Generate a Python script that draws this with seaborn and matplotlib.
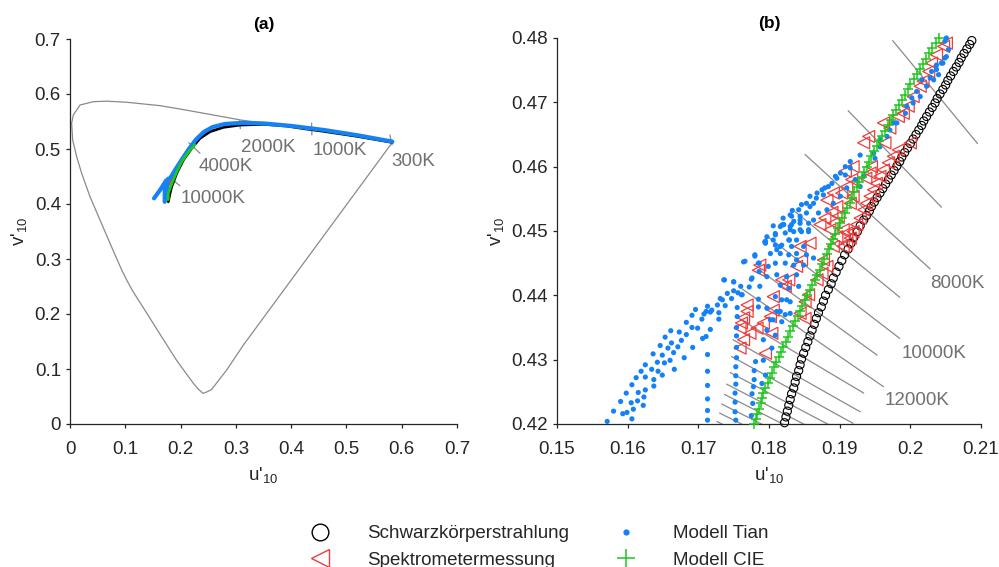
import matplotlib
matplotlib.use("Agg")
import matplotlib.pyplot as plt
import pandas as pd
import seaborn as sns
from matplotlib.lines import Line2D
from matplotlib.ticker import FuncFormatter

# ---------------------------------------------------------------- data
# spectral locus + purple line (CIE 1964, u'10 v'10)
locus_u = [0.583, 0.50, 0.44, 0.38, 0.31, 0.25, 0.20, 0.163, 0.1025, 0.0663, 0.0422,
           0.0181, 0.006, 0.003, 0.0048, 0.0121, 0.0211, 0.0362, 0.0543, 0.0724, 0.0935,
           0.1025, 0.1116, 0.1220, 0.1326, 0.1628, 0.193, 0.2231, 0.232, 0.2406, 0.2480,
           0.2563, 0.2834, 0.3135, 0.3437, 0.44, 0.537, 0.583]
locus_v = [0.512, 0.5255, 0.5355, 0.5436, 0.5525, 0.5635, 0.5725, 0.5788, 0.585, 0.587, 0.586,
           0.580, 0.5618, 0.5467, 0.5164, 0.486, 0.4558, 0.4133, 0.3709, 0.3285, 0.2800,
           0.2620, 0.2450, 0.2280, 0.2115, 0.1632, 0.1155, 0.074, 0.0635, 0.0557, 0.0585,
           0.063, 0.0982, 0.1434, 0.1847, 0.3164, 0.449, 0.512]

# Planckian locus, overview
planck_u = [0.583, 0.52, 0.46, 0.42, 0.392, 0.35, 0.3075, 0.2773, 0.2532, 0.2351, 0.2201,
            0.205, 0.193, 0.1839, 0.1805, 0.1778]
planck_v = [0.512, 0.523, 0.532, 0.5375, 0.5418, 0.5449, 0.5436, 0.5394, 0.5315, 0.5194, 0.5013,
            0.48, 0.4558, 0.4315, 0.418, 0.4042]

# model Tian, overview (three branches)
tian_line_u = [0.583, 0.52, 0.46, 0.40, 0.35, 0.31, 0.28, 0.258, 0.242, 0.228, 0.215, 0.203,
               0.1905, 0.181, 0.1736, 0.163, 0.152,
               0.1745, 0.1713, 0.1713,
               0.1775, 0.1754, 0.1754]
tian_line_v = [0.5135, 0.525, 0.5345, 0.542, 0.5465, 0.5475, 0.5455, 0.540, 0.531, 0.5175, 0.500,
               0.482, 0.4625, 0.4467, 0.4424, 0.4255, 0.4103,
               0.442, 0.431, 0.404,
               0.446, 0.438, 0.410]
tian_line_seg = [0] * 17 + [1] * 3 + [2] * 3

# spectrometer + CIE model, overview
spec_line_u = [0.176, 0.183, 0.192, 0.196]
spec_line_v = [0.432, 0.445, 0.462, 0.466]
cie_line_u = [0.1775, 0.1779, 0.1844, 0.1924, 0.2004, 0.2040, 0.2155, 0.226]
cie_line_v = [0.408, 0.420, 0.4377, 0.4569, 0.4735, 0.480, 0.496, 0.508]

# temperature marks, overview
mark_u0 = [0.5785, 0.4370, 0.3070, 0.2150, 0.1796]
mark_v0 = [0.5255, 0.5470, 0.5520, 0.5115, 0.4493]
mark_u1 = [0.5825, 0.4375, 0.3080, 0.2351, 0.1985]
mark_v1 = [0.5073, 0.5255, 0.5370, 0.4922, 0.4333]
mark_text = ["300K", "1000K", "2000K", "4000K", "10000K"]
mark_text_u = [0.582, 0.439, 0.3087, 0.2333, 0.2008]
mark_text_v = [0.4769, 0.4976, 0.5036, 0.4673, 0.4097]

# ---- detail window
bb_u = [0.1822, 0.1824, 0.1826, 0.1828, 0.1830, 0.1832, 0.1835, 0.1837, 0.1839, 0.1842,
        0.1844, 0.1846, 0.1849, 0.1852, 0.1855, 0.1858, 0.1861, 0.1864, 0.1867, 0.1870,
        0.1874, 0.1877, 0.1880, 0.1884, 0.1888, 0.1891, 0.1895, 0.1899, 0.1903, 0.1907,
        0.1912, 0.1916, 0.1920, 0.1925, 0.1929, 0.1934,
        0.1938, 0.1942, 0.1945, 0.1949, 0.1953, 0.1957, 0.1961, 0.1965, 0.1969, 0.1973,
        0.1977, 0.1981, 0.1985, 0.1988, 0.1992, 0.1996, 0.2000, 0.2004, 0.2008, 0.2012,
        0.2016, 0.2019, 0.2023, 0.2027, 0.2031, 0.2035, 0.2038, 0.2042, 0.2046, 0.2050,
        0.2053, 0.2057, 0.2061, 0.2065, 0.2069, 0.2072, 0.2076, 0.2080, 0.2084, 0.2087]
bb_v = [0.4202, 0.4211, 0.4220, 0.4229, 0.4238, 0.4247, 0.4256, 0.4265, 0.4274, 0.4283,
        0.4292, 0.4301, 0.4310, 0.4319, 0.4328, 0.4337, 0.4346, 0.4355, 0.4364, 0.4373,
        0.4382, 0.4391, 0.4400, 0.4409, 0.4418, 0.4427, 0.4436, 0.4445, 0.4454, 0.4463,
        0.4472, 0.4481, 0.4490, 0.4499, 0.4508, 0.4517,
        0.4524, 0.4531, 0.4538, 0.4545, 0.4552, 0.4559, 0.4566, 0.4573, 0.4580, 0.4587,
        0.4594, 0.4601, 0.4608, 0.4615, 0.4622, 0.4629, 0.4636, 0.4643, 0.4650, 0.4657,
        0.4664, 0.4671, 0.4678, 0.4685, 0.4692, 0.4699, 0.4706, 0.4713, 0.4720, 0.4727,
        0.4734, 0.4741, 0.4748, 0.4755, 0.4762, 0.4769, 0.4776, 0.4783, 0.4790, 0.4796]

spec_u = [0.2051, 0.2047, 0.2037, 0.2030, 0.2026, 0.2018, 0.2014, 0.2004, 0.1997, 0.1990,
          0.1983, 0.1971, 0.1962,
          0.1964, 0.1941, 0.1934, 0.1945, 0.1919, 0.1908, 0.1919, 0.1915, 0.1891, 0.1882,
          0.1910, 0.1905, 0.1898, 0.1891, 0.1886, 0.1896, 0.1891, 0.1905,
          0.1858, 0.1844, 0.1846, 0.1839,
          0.1882, 0.1877, 0.1875, 0.1868,
          0.1856, 0.1851, 0.1851, 0.1844,
          0.1828, 0.1818, 0.1823, 0.1806,
          0.1787, 0.1785,
          0.1806, 0.1802, 0.1792, 0.1783, 0.1773, 0.1804, 0.1795,
          0.1769, 0.1769, 0.1764, 0.1761, 0.1759, 0.1764, 0.1759,
          0.2000, 0.1983, 0.1976, 0.1969, 0.1962, 0.1957, 0.1952, 0.1948, 0.1943, 0.1938,
          0.1934, 0.1929, 0.1924, 0.1919, 0.1915, 0.1910,
          0.1943, 0.1937, 0.1917, 0.1910, 0.1903, 0.1896, 0.1889, 0.1879, 0.1872]
spec_v = [0.4792, 0.4787, 0.4774, 0.4761, 0.4748, 0.4733, 0.4725, 0.4709, 0.4694, 0.4683,
          0.4678, 0.4660, 0.4668,
          0.4637, 0.4647, 0.4637, 0.4600, 0.4600, 0.4593, 0.4554, 0.4543, 0.4559, 0.4548,
          0.4497, 0.4502, 0.4523, 0.4512, 0.4502, 0.4491, 0.4476, 0.4476,
          0.4481, 0.4476, 0.4455, 0.4445,
          0.4445, 0.4455, 0.4434, 0.4424,
          0.4401, 0.4390, 0.4364, 0.4372,
          0.4424, 0.4424, 0.4414, 0.4398,
          0.4447, 0.4439,
          0.4377, 0.4367, 0.4357, 0.4349, 0.4341, 0.4341, 0.4310,
          0.4385, 0.4375, 0.4365, 0.4357, 0.4349, 0.4331, 0.4318,
          0.4637, 0.4626, 0.4616, 0.4606, 0.4595, 0.4585, 0.4574, 0.4564, 0.4554, 0.4543,
          0.4533, 0.4520, 0.4510, 0.4499, 0.4489, 0.4481,
          0.4590, 0.4582, 0.4580, 0.4569, 0.4559, 0.4538, 0.4529, 0.4520, 0.4510]

tian_arc_u = [0.1571, 0.1580, 0.1593, 0.1599, 0.1606, 0.1590, 0.1605, 0.1608, 0.1622, 0.1598,
              0.1606, 0.1615, 0.1614, 0.1625, 0.1623, 0.1612, 0.1625, 0.1619, 0.1637, 0.1637,
              0.1634, 0.1625, 0.1643, 0.1649, 0.1642, 0.1652, 0.1636, 0.1649, 0.1660, 0.1666,
              0.1665, 0.1646, 0.1657, 0.1662, 0.1671, 0.1680, 0.1653, 0.1661, 0.1673, 0.1676,
              0.1683, 0.1692, 0.1691, 0.1683, 0.1699, 0.1696, 0.1691, 0.1705, 0.1706, 0.1711,
              0.1717, 0.1708, 0.1713, 0.1711, 0.1717, 0.1719, 0.1729, 0.1729, 0.1727, 0.1731,
              0.1734, 0.1738, 0.1741, 0.1747, 0.1750, 0.1756, 0.1737, 0.1750, 0.1760, 0.1762,
              0.1772, 0.1775, 0.1764, 0.1780, 0.1786, 0.1794, 0.1786]
tian_arc_v = [0.4204, 0.4220, 0.4216, 0.4218, 0.4208, 0.4235, 0.4233, 0.4223, 0.4229, 0.4248,
              0.4261, 0.4249, 0.4236, 0.4253, 0.4242, 0.4272, 0.4273, 0.4282, 0.4259, 0.4269,
              0.4285, 0.4292, 0.4282, 0.4276, 0.4296, 0.4295, 0.4309, 0.4307, 0.4299, 0.4285,
              0.4311, 0.4322, 0.4318, 0.4326, 0.4320, 0.4303, 0.4335, 0.4345, 0.4343, 0.4330,
              0.4339, 0.4319, 0.4350, 0.4358, 0.4349, 0.4378, 0.4369, 0.4363, 0.4333, 0.4336,
              0.4347, 0.4371, 0.4383, 0.4375, 0.4374, 0.4377, 0.4373, 0.4363, 0.4385, 0.4395,
              0.4393, 0.4384, 0.4403, 0.4395, 0.4407, 0.4404, 0.4424, 0.4421, 0.4414, 0.4401,
              0.4413, 0.4425, 0.4452, 0.4461, 0.4450, 0.4483, 0.4437]

tian_col_u = [0.1713] * 6 + [0.1755, 0.1755, 0.1754, 0.1754, 0.1754, 0.1754, 0.1753, 0.1753,
                              0.1753, 0.1752, 0.1752, 0.1752, 0.1753] + \
             [0.1781, 0.1779, 0.1779, 0.1778, 0.1776, 0.1777, 0.1775]
tian_col_v = [0.4308, 0.4282, 0.4260, 0.4239, 0.4221, 0.4206,
              0.4381, 0.4367, 0.4350, 0.4337, 0.4319, 0.4303, 0.4289, 0.4275, 0.4262, 0.4248,
              0.4234, 0.4219, 0.4206,
              0.4297, 0.4283, 0.4269, 0.4258, 0.4247, 0.4232, 0.4213]

tian_mid_u = [0.1816, 0.1832, 0.1844, 0.1797, 0.1809, 0.1823, 0.1835, 0.1846, 0.1795, 0.1809,
              0.1818, 0.1832, 0.1849, 0.1802, 0.1816, 0.1828, 0.1839, 0.1853, 0.1809, 0.1823,
              0.1835, 0.1849, 0.1863, 0.1811, 0.1825, 0.1839, 0.1816, 0.1828, 0.1842, 0.1809,
              0.1818, 0.1830, 0.1797, 0.1811, 0.1823, 0.1802, 0.1818, 0.1797, 0.1809, 0.1792,
              0.1804, 0.1792, 0.1795, 0.1790,
              0.1842, 0.1853, 0.1830, 0.1820, 0.1830, 0.1856, 0.1856, 0.1809, 0.1829, 0.1795,
              0.1811, 0.1766, 0.1780, 0.1785, 0.1799, 0.1839, 0.1776, 0.1787, 0.1797, 0.1736,
              0.1750, 0.1761, 0.1785, 0.1825, 0.1816, 0.1830, 0.1806, 0.1785]
tian_mid_v = [0.4507, 0.4510, 0.4512, 0.4491, 0.4494, 0.4497, 0.4499, 0.4499, 0.4481, 0.4478,
              0.4478, 0.4476, 0.4476, 0.4465, 0.4465, 0.4463, 0.4465, 0.4463, 0.4450, 0.4450,
              0.4447, 0.4447, 0.4458, 0.4432, 0.4429, 0.4432, 0.4416, 0.4411, 0.4414, 0.4398,
              0.4393, 0.4390, 0.4380, 0.4375, 0.4370, 0.4362, 0.4359, 0.4346, 0.4338, 0.4331,
              0.4318, 0.4299, 0.4276, 0.4263,
              0.4533, 0.4528, 0.4525, 0.4510, 0.4507, 0.4512, 0.4499, 0.4496, 0.4486, 0.4484,
              0.4471, 0.4453, 0.4463, 0.4450, 0.4445, 0.4455, 0.4427, 0.4414, 0.4429, 0.4424,
              0.4421, 0.4401, 0.4394, 0.4393, 0.4375, 0.4372, 0.4362, 0.4382]

tian_top_u = [0.1806, 0.1818, 0.1820, 0.1832, 0.1833, 0.1846, 0.1853, 0.1858, 0.1858, 0.1868,
              0.1875, 0.1879, 0.1889, 0.1896, 0.1901, 0.1908, 0.1915,
              0.1806, 0.1816, 0.1830, 0.1844, 0.1844, 0.1828, 0.1839, 0.1856, 0.1863, 0.1870,
              0.1882, 0.1891, 0.1901, 0.1910, 0.1922,
              0.1929, 0.1948, 0.1957, 0.1950, 0.1957, 0.1967, 0.1971, 0.1976, 0.1981, 0.1993,
              0.1995, 0.2002, 0.2004, 0.2009, 0.2014, 0.2016, 0.2023, 0.2028, 0.2030, 0.2033,
              0.2037, 0.2037, 0.2040, 0.2044, 0.2046, 0.2049, 0.2051, 0.2054, 0.2049, 0.2051,
              0.1915, 0.1908, 0.1894, 0.1884, 0.1877, 0.1867, 0.1863, 0.1844, 0.1835, 0.1821,
              0.1934, 0.1929]
tian_top_v = [0.4508, 0.4509, 0.4520, 0.4523, 0.4532, 0.4541, 0.4543, 0.4538, 0.4554, 0.4559,
              0.4564, 0.4567, 0.4574, 0.4582, 0.4590, 0.4600, 0.4608,
              0.4486, 0.4476, 0.4502, 0.4517, 0.4502, 0.4486, 0.4486, 0.4502, 0.4517, 0.4528,
              0.4533, 0.4543, 0.4554, 0.4567, 0.4580,
              0.4618, 0.4621, 0.4642, 0.4613, 0.4631, 0.4647, 0.4657, 0.4668, 0.4668, 0.4683,
              0.4694, 0.4707, 0.4699, 0.4717, 0.4709, 0.4735, 0.4725, 0.4738, 0.4748, 0.4735,
              0.4751, 0.4758, 0.4743, 0.4761, 0.4761, 0.4769, 0.4771, 0.4782, 0.4795, 0.4800,
              0.4598, 0.4587, 0.4585, 0.4569, 0.4556, 0.4551, 0.4543, 0.4523, 0.4515, 0.4510,
              0.4585, 0.4569]

cie_u = [0.1779, 0.1781, 0.1783, 0.1786, 0.1788, 0.1790, 0.1792, 0.1795, 0.1798, 0.1801,
         0.1804, 0.1807, 0.1810, 0.1814, 0.1817, 0.1820, 0.1824, 0.1827, 0.1830, 0.1834,
         0.1837, 0.1841, 0.1844, 0.1847, 0.1851, 0.1854, 0.1858, 0.1861, 0.1865, 0.1868,
         0.1872, 0.1875, 0.1878, 0.1882, 0.1885, 0.1888, 0.1891, 0.1894, 0.1898, 0.1901,
         0.1904, 0.1907, 0.1910, 0.1914, 0.1917, 0.1920, 0.1924, 0.1927, 0.1931, 0.1934,
         0.1938, 0.1942, 0.1945, 0.1949, 0.1953, 0.1956, 0.1960, 0.1964, 0.1968, 0.1972,
         0.1976, 0.1980, 0.1984, 0.1988, 0.1992, 0.1996, 0.2000, 0.2005, 0.2009, 0.2013,
         0.2018, 0.2022, 0.2027, 0.2031, 0.2036, 0.2040]
cie_v = [0.4200, 0.4208, 0.4216, 0.4224, 0.4232, 0.4240, 0.4248, 0.4256, 0.4264, 0.4272,
         0.4280, 0.4288, 0.4296, 0.4304, 0.4312, 0.4320, 0.4328, 0.4336, 0.4344, 0.4352,
         0.4360, 0.4368, 0.4376, 0.4384, 0.4392, 0.4400, 0.4408, 0.4416, 0.4424, 0.4432,
         0.4440, 0.4448, 0.4456, 0.4464, 0.4472, 0.4480, 0.4488, 0.4496, 0.4504, 0.4512,
         0.4520, 0.4528, 0.4536, 0.4544, 0.4552, 0.4560, 0.4568, 0.4576, 0.4584, 0.4592,
         0.4600, 0.4608, 0.4616, 0.4624, 0.4632, 0.4640, 0.4648, 0.4656, 0.4664, 0.4672,
         0.4680, 0.4688, 0.4696, 0.4704, 0.4712, 0.4720, 0.4728, 0.4736, 0.4744, 0.4752,
         0.4760, 0.4768, 0.4776, 0.4784, 0.4792, 0.4800]

# isotemperature lines in the detail window (start / end points)
iso_u0 = [0.1975, 0.1912, 0.1851, 0.1837, 0.1796, 0.1787, 0.1762, 0.1760, 0.1749, 0.1747,
          0.1745, 0.1740, 0.1737, 0.1733, 0.1730, 0.1726]
iso_v0 = [0.4796, 0.4687, 0.4619, 0.4530, 0.4493, 0.4439, 0.4410, 0.4362, 0.4331, 0.4305,
          0.4280, 0.4262, 0.4246, 0.4231, 0.4217, 0.4204]
iso_u1 = [0.2095, 0.2044, 0.2028, 0.1985, 0.1985, 0.1953, 0.1962, 0.1934, 0.1929, 0.1919,
          0.1912, 0.1905, 0.1900, 0.1895, 0.1890, 0.1885]
iso_v1 = [0.4636, 0.4537, 0.4441, 0.4397, 0.4333, 0.4307, 0.4258, 0.4248, 0.4219, 0.4201,
          0.4183, 0.4168, 0.4155, 0.4142, 0.4130, 0.4118]
iso_text = ["8000K", "10000K", "12000K"]
iso_text_u = [0.2028, 0.1988, 0.1964]
iso_text_v = [0.4419, 0.4309, 0.4237]

ticks_a = [0, 0.1, 0.2, 0.3, 0.4, 0.5, 0.6, 0.7]
ticks_bu = [0.15, 0.16, 0.17, 0.18, 0.19, 0.20, 0.21]
ticks_bv = [0.42, 0.43, 0.44, 0.45, 0.46, 0.47, 0.48]

series_names = ["Schwarzkörperstrahlung", "Spektrometermessung", "Modell Tian", "Modell CIE"]

# ---------------------------------------------------------------- style
sns.set_style("ticks")
plt.rcParams["font.family"] = ["Liberation Sans", "DejaVu Sans"]
plt.rcParams["mathtext.fontset"] = "custom"
plt.rcParams["mathtext.rm"] = "Liberation Sans"
plt.rcParams["mathtext.it"] = "Liberation Sans:italic"
plt.rcParams["mathtext.bf"] = "Liberation Sans:bold"

AX = "#262626"
GRAY = "#8a8a8a"
TXT = "#707070"
RED = "#f03c3c"
BLUE = "#1482f5"
GREEN = "#1ec81e"
FS = 13.5

fig = plt.figure(figsize=(9.99, 5.67), dpi=100)
ax_a = fig.add_axes([70 / 999, 143 / 567, 387 / 999, 385 / 567])
ax_b = fig.add_axes([557 / 999, 143 / 567, 424 / 999, 386 / 567])

fmt = FuncFormatter(lambda val, pos: f"{val:g}")

# ---------------------------------------------------------------- (a) overview
df_locus = pd.DataFrame({"u": locus_u, "v": locus_v})
sns.lineplot(data=df_locus, x="u", y="v", sort=False, estimator=None, color=GRAY,
             lw=0.9, ax=ax_a)
for x0, y0, x1, y1 in zip(mark_u0, mark_v0, mark_u1, mark_v1):
    ax_a.plot([x0, x1], [y0, y1], color=GRAY, lw=0.9)
sns.lineplot(x=planck_u, y=planck_v, sort=False, estimator=None, color="black", lw=2.0,
             ax=ax_a)
sns.lineplot(x=spec_line_u, y=spec_line_v, sort=False, estimator=None, color=RED, lw=2.5,
             ax=ax_a)
df_tian = pd.DataFrame({"u": tian_line_u, "v": tian_line_v, "seg": tian_line_seg})
sns.lineplot(data=df_tian, x="u", y="v", units="seg", sort=False, estimator=None,
             color=BLUE, lw=3.0, ax=ax_a)
sns.lineplot(x=cie_line_u, y=cie_line_v, sort=False, estimator=None, color=GREEN, lw=2.0,
             ax=ax_a)
for t, x, y in zip(mark_text, mark_text_u, mark_text_v):
    ax_a.text(x, y, t, color=TXT, fontsize=FS, ha="left", va="center")

ax_a.set_xlim(0, 0.7)
ax_a.set_ylim(0, 0.7)
ax_a.set_xticks(ticks_a)
ax_a.set_yticks(ticks_a)
ax_a.set_title("(a)", fontsize=12.5, fontweight="bold", pad=7.4, color="black")

# ---------------------------------------------------------------- (b) detail
for x0, y0, x1, y1 in zip(iso_u0, iso_v0, iso_u1, iso_v1):
    ax_b.plot([x0, x1], [y0, y1], color=GRAY, lw=0.9, zorder=1)

sns.scatterplot(x=bb_u, y=bb_v, marker="o", s=34, facecolor="none", edgecolor="black",
                linewidth=0.8, ax=ax_b, clip_on=False, zorder=2)
sns.scatterplot(x=spec_u, y=spec_v, marker="<", s=75, facecolor="none", edgecolor=RED,
                linewidth=0.9, ax=ax_b, clip_on=False, zorder=3)
tian_u = tian_arc_u + tian_col_u + tian_mid_u + tian_top_u
tian_v = tian_arc_v + tian_col_v + tian_mid_v + tian_top_v
sns.scatterplot(x=tian_u, y=tian_v, marker="o", s=14, color=BLUE, edgecolor="none",
                linewidth=0, ax=ax_b, clip_on=False, zorder=4)
sns.scatterplot(x=cie_u, y=cie_v, marker="+", s=55, color=GREEN, linewidth=1.1,
                ax=ax_b, clip_on=False, zorder=5)
for t, x, y in zip(iso_text, iso_text_u, iso_text_v):
    ax_b.text(x, y, t, color=TXT, fontsize=FS, ha="left", va="center")

ax_b.set_xlim(0.15, 0.21)
ax_b.set_ylim(0.42, 0.48)
ax_b.set_xticks(ticks_bu)
ax_b.set_yticks(ticks_bv)
ax_b.set_title("(b)", fontsize=12.5, fontweight="bold", pad=7.4, color="black")

# ---------------------------------------------------------------- axes cosmetics
for ax in (ax_a, ax_b):
    sns.despine(ax=ax)
    for side in ("left", "bottom"):
        ax.spines[side].set_color(AX)
        ax.spines[side].set_linewidth(0.9)
    ax.tick_params(axis="both", direction="out", length=3, width=0.9, color=AX,
                   labelcolor=AX, labelsize=FS)
    ax.tick_params(axis="x", pad=9.5)
    ax.tick_params(axis="y", pad=3.5)
    ax.xaxis.set_major_formatter(fmt)
    ax.yaxis.set_major_formatter(fmt)
    ax.set_xlabel("u'$_{\\mathregular{10}}$", fontsize=FS, color=AX, labelpad=4.5)
    ax.set_ylabel("v'$_{\\mathregular{10}}$", fontsize=FS, color=AX, labelpad=4)
    ax.set_facecolor("white")

# ---------------------------------------------------------------- legend
handles = [
    Line2D([], [], ls="none", marker="o", mfc="none", mec="black", ms=12, mew=1.0),
    Line2D([], [], ls="none", marker="<", mfc="none", mec=RED, ms=13, mew=1.0),
    Line2D([], [], ls="none", marker="o", mfc=BLUE, mec="none", ms=4.5),
    Line2D([], [], ls="none", marker="+", color=GREEN, ms=13, mew=1.1),
]
fig.legend(handles, series_names, ncol=2, frameon=False, fontsize=FS, loc="center",
           bbox_to_anchor=(0.5355, 20 / 567), handlelength=2.0, handletextpad=1.5,
           columnspacing=2.05, labelspacing=0.5, borderpad=0, borderaxespad=0)

fig.savefig("out.png", dpi=100, facecolor="white")
